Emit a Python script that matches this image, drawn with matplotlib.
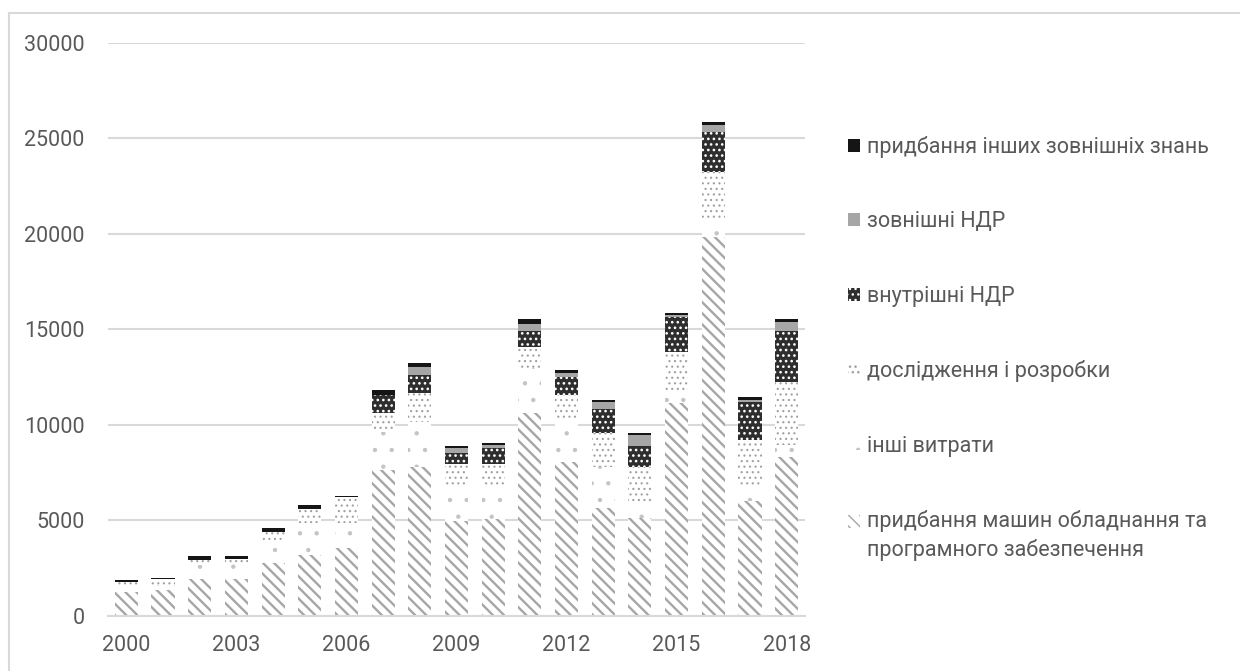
import matplotlib
matplotlib.use("Agg")
import matplotlib.pyplot as plt
from matplotlib.lines import Line2D
from matplotlib.patches import Rectangle
from matplotlib.legend_handler import HandlerPatch, update_from_first_child

plt.rcParams['font.family'] = ['Roboto', 'DejaVu Sans']

# Innovation expenditure by direction, 2000-2018
years = list(range(2000, 2019))
machinery = [1250, 1340, 1900, 1900, 2780, 3180, 3560, 7630, 7800, 4950,
             5050, 10600, 8060, 5620, 5100, 11120, 19840, 6000, 8330]
other_costs = [270, 260, 750, 850, 1180, 1660, 1280, 2000, 2360, 1800,
               1750, 2350, 2190, 2180, 790, 610, 880, 750, 610]
research = [250, 310, 270, 230, 440, 730, 1360, 970, 1480, 1180,
            1130, 1130, 1300, 1780, 1910, 2090, 2530, 2450, 3310]
internal_rd = [0, 0, 0, 0, 0, 0, 0, 950, 960, 570,
               830, 840, 930, 1230, 1090, 1800, 2090, 2000, 2670]
external_rd = [0, 0, 0, 0, 0, 0, 0, 30, 400, 260,
               180, 350, 240, 360, 570, 120, 350, 90, 470]
other_knowledge = [100, 90, 200, 150, 170, 210, 60, 240, 230, 140,
                   80, 250, 140, 120, 120, 120, 170, 140, 130]

series_labels = [
    "придбання машин обладнання та\nпрограмного забезпечення",
    "інші витрати",
    "дослідження і розробки",
    "внутрішні НДР",
    "зовнішні НДР",
    "придбання інших зовнішніх знань",
]
tick_years = [2000, 2003, 2006, 2009, 2012, 2015, 2018]
y_ticks = [0, 5000, 10000, 15000, 20000, 25000, 30000]

TEXT = "#595959"
GRID = "#d9d9d9"
FS = 15.5

# face colour, hatch colour, hatch pattern, hatch line width
styles = [
    ("white", "#a6a6a6", "\\\\\\", 1.7),
    ("white", "#c4c4c4", ".", 0.7),
    ("white", "#a0a0a0", "...", 0.8),
    ("#2e2e2e", "white", "...", 1.1),
    ("#a6a6a6", "#a6a6a6", None, 1.0),
    ("#151515", "#151515", None, 1.0),
]
values = [machinery, other_costs, research, internal_rd, external_rd, other_knowledge]

fig = plt.figure(figsize=(12.4, 6.71), dpi=100)
ax = fig.add_axes([108 / 1240, 55.3 / 671, 697 / 1240, 573 / 671])

x = list(range(len(years)))
bottom = [0.0] * len(years)
containers = []
for vals, lab, (fc, hc, hatch, hlw) in zip(values, series_labels, styles):
    with plt.rc_context({'hatch.linewidth': hlw}):
        bars = ax.bar(x, vals, width=0.63, bottom=bottom, facecolor=fc,
                      edgecolor=hc, linewidth=0, hatch=hatch, label=lab, zorder=3)
    for b in bars:
        if hasattr(b, "set_hatch_linewidth"):
            b.set_hatch_linewidth(hlw)
    containers.append(bars)
    bottom = [b0 + v for b0, v in zip(bottom, vals)]

ax.set_xlim(-0.5, len(years) - 0.5)
ax.set_ylim(0, 30000)
ax.set_yticks(y_ticks)
ax.set_yticklabels([str(t) for t in y_ticks])
ax.set_xticks([years.index(y) for y in tick_years])
ax.set_xticklabels([str(y) for y in tick_years])
ax.tick_params(axis='both', length=0, labelsize=FS, colors=TEXT)
ax.tick_params(axis='y', pad=17)
ax.tick_params(axis='x', pad=14)
ax.yaxis.grid(True, color=GRID, linewidth=1.5, zorder=0)
ax.set_axisbelow(True)
for side in ("left", "right", "top"):
    ax.spines[side].set_visible(False)
ax.spines["bottom"].set_color(GRID)
ax.spines["bottom"].set_linewidth(1.5)
ax.spines["bottom"].set_zorder(4)

LINESP = 1.42


def first_line_key(legend, orig_handle, xdescent, ydescent, width, height, fontsize):
    # key sits beside the first line of a two-line label
    shift = fontsize * 0.66
    return Rectangle((-xdescent, -ydescent + shift), width, height)


handles = containers[::-1]
labels_rev = series_labels[::-1]
leg = fig.legend(handles, labels_rev, loc="upper left",
                 bbox_to_anchor=(848 / 1240, 1 - 136 / 671),
                 frameon=False, fontsize=FS, labelcolor=TEXT,
                 handlelength=0.55, handleheight=0.55, handletextpad=0.35,
                 labelspacing=2.48, borderpad=0, borderaxespad=0,
                 handler_map={containers[0]: HandlerPatch(
                     patch_func=first_line_key,
                     update_func=update_from_first_child)})
for t in leg.get_texts():
    t.set_linespacing(LINESP)

# chart frame (left and top edges)
fig.add_artist(Line2D([9 / 1240, 9 / 1240], [0, 1 - 13 / 671],
                      transform=fig.transFigure, color=GRID, linewidth=1.5))
fig.add_artist(Line2D([9 / 1240, 1], [1 - 13 / 671, 1 - 13 / 671],
                      transform=fig.transFigure, color=GRID, linewidth=1.5))

fig.savefig("out.png", dpi=100, facecolor="white")
